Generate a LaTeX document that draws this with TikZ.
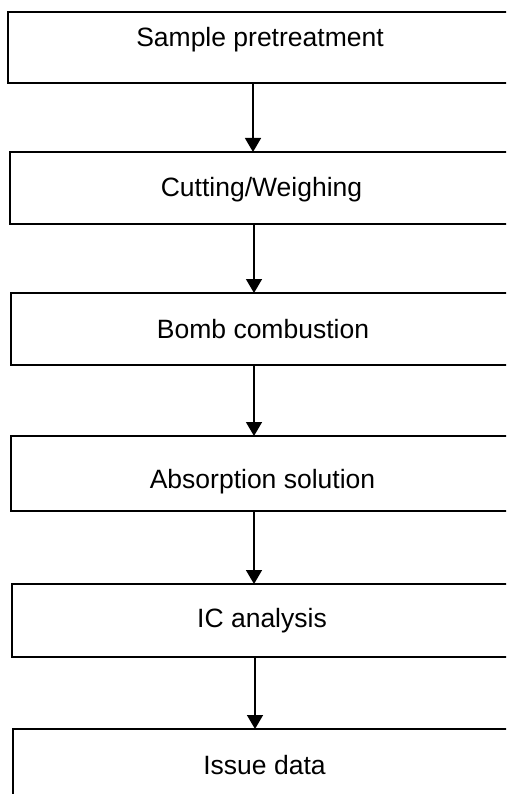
\documentclass[tikz,border=0pt]{standalone}
\usepackage{fontspec}
\setmainfont{Liberation Sans}
\usetikzlibrary{arrows.meta}
\tikzset{
  stepbox/.style={draw=black, line width=1.5pt, inner sep=0pt, outer sep=0pt, rectangle},
  lbl/.style={anchor=base, inner sep=0pt, font=\fontsize{26.5pt}{30pt}\selectfont},
  arr/.style={line width=1.5pt, -{Triangle[width=16pt,length=14pt]}}
}
\begin{document}
\begin{tikzpicture}[x=1pt,y=-1pt]
\useasboundingbox (0,0) rectangle (506,794);
\clip (0,0) rectangle (506,794);
% boxes: left, top, bottom; right = 540 (cut off by the page edge)
\node[stepbox, minimum width=532pt, minimum height=71pt] (b1) at (274,47.5) {};
\node[stepbox, minimum width=530pt, minimum height=72pt] (b2) at (275,188) {};
\node[stepbox, minimum width=529pt, minimum height=72pt] (b3) at (275.5,329) {};
\node[stepbox, minimum width=529pt, minimum height=75pt] (b4) at (275.5,473.5) {};
\node[stepbox, minimum width=528pt, minimum height=73pt] (b5) at (276,620.5) {};
\node[stepbox, minimum width=527pt, minimum height=91pt] (b6) at (276.5,774.5) {};
% labels
\node[lbl] (t1) at (260,47) {Sample pretreatment};
\node[lbl] (t2) at (261.5,197) {Cutting/Weighing};
\node[lbl] (t3) at (263,338) {Bomb combustion};
\node[lbl] (t4) at (262.5,488) {Absorption solution};
\node[lbl] (t5) at (262,627) {IC analysis};
\node[lbl] (t6) at (264.5,774) {Issue data};
% arrows
\draw[arr] (b1.south -| 253,0) -- (b2.north -| 253,0);
\draw[arr] (b2.south -| 254,0) -- (b3.north -| 254,0);
\draw[arr] (b3.south -| 254,0) -- (b4.north -| 254,0);
\draw[arr] (b4.south -| 254,0) -- (b5.north -| 254,0);
\draw[arr] (b5.south -| 255,0) -- (b6.north -| 255,0);
\end{tikzpicture}
\end{document}
